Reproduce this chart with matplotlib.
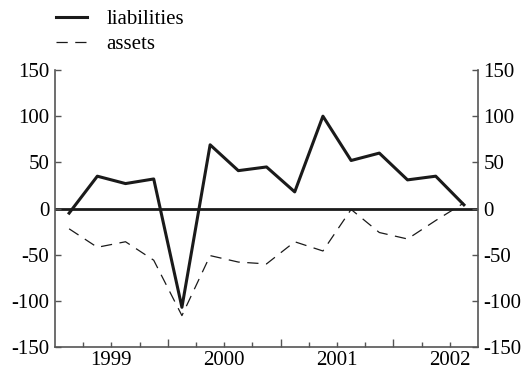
import numpy as np
import matplotlib.pyplot as plt
from matplotlib.ticker import FixedLocator, FixedFormatter

plt.rcParams['font.family'] = ['Liberation Serif', 'DejaVu Serif']
plt.rcParams['axes.unicode_minus'] = False

# quarterly data, 1999Q1 - 2002Q3 (plotted at mid-quarter)
quarters = np.arange(15)
liabilities = [-5, 35, 27, 32, -107, 69, 41, 45, 18, 100, 52, 60, 31, 35, 4]
assets = [-22, -42, -36, -56, -116, -51, -58, -60, -36, -46, -1, -26, -33, -13, 6]
years = [1999, 2000, 2001, 2002]
y_ticks = [-150, -100, -50, 0, 50, 100, 150]

x = 1999 + quarters * 0.25 + 0.125

fig = plt.figure(figsize=(5.25, 3.72), dpi=100)
ax = fig.add_axes([0.1048, 0.0672, 0.8057, 0.7446])

dark = '#1a1a1a'
ax.axhline(0, color=dark, lw=2.0, zorder=1)
ax.plot(x, liabilities, color=dark, lw=2.2, label='liabilities', zorder=3)
ax.plot(x, assets, color=dark, lw=0.9, dashes=(9, 6), label='assets', zorder=2)

ax.set_xlim(1999, 2002.75)
ax.set_ylim(-150, 150)

# year boundaries as long ticks, quarters as short ticks, labels mid-year
ax.xaxis.set_major_locator(FixedLocator(years[1:]))
ax.xaxis.set_major_formatter(FixedFormatter([''] * 3))
q_pos = [1999 + 0.25 * i for i in range(1, 15) if i % 4 != 0]
q_lab = [str(int(p)) if abs(p % 1 - 0.5) < 1e-6 else '' for p in q_pos]
ax.xaxis.set_minor_locator(FixedLocator(q_pos))
ax.xaxis.set_minor_formatter(FixedFormatter(q_lab))
ax.tick_params(axis='x', which='major', direction='in', length=6, width=1,
               color='#555555')
ax.tick_params(axis='x', which='minor', direction='in', length=3.5, width=1,
               color='#555555', labelsize=15, pad=3)

ax.set_yticks(y_ticks)
ax.tick_params(axis='y', direction='in', length=4, width=1, color='#555555',
               labelsize=15, left=True, right=True, labelleft=True,
               labelright=True, pad=4)

ax.spines['top'].set_visible(False)
for s in ['left', 'right', 'bottom']:
    ax.spines[s].set_color('#555555')
    ax.spines[s].set_linewidth(1.2)

fig.legend(loc='upper left', bbox_to_anchor=(0.07, 1.025), frameon=False,
           fontsize=15, handlelength=1.5, handletextpad=0.95, labelspacing=0.25)

fig.savefig('out.png', dpi=100)
